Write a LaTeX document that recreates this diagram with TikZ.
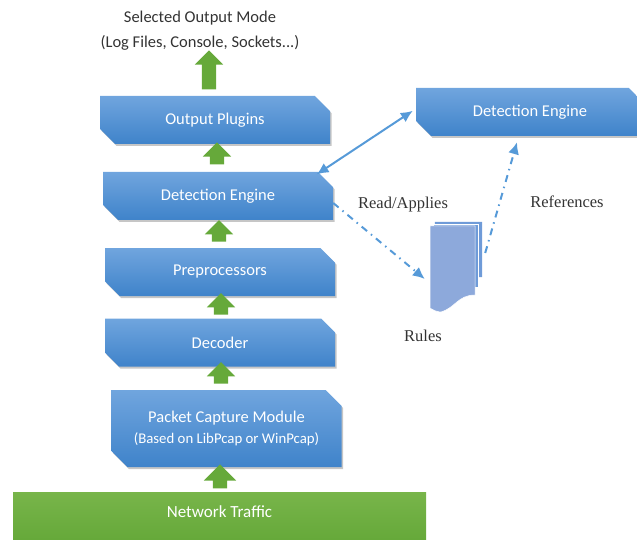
\documentclass[tikz,border=0pt]{standalone}
\usepackage{fontspec}
\setmainfont{Carlito}
\newfontfamily\serifnote{Liberation Serif}
\usetikzlibrary{shapes.misc,shapes.arrows,shadows,arrows.meta}
\definecolor{boxtop}{HTML}{70A5DE}
\definecolor{boxbot}{HTML}{3F83CA}
\definecolor{greentop}{HTML}{78B54A}
\definecolor{greenbot}{HTML}{66A93A}
\definecolor{linkblue}{HTML}{569AD8}
\definecolor{pagefill}{HTML}{8DA9DB}
\definecolor{pageback}{HTML}{6F9BD8}
\definecolor{notegray}{HTML}{333333}
\tikzset{
  module/.style={chamfered rectangle,chamfered rectangle corners={north east,south west},
    chamfered rectangle xsep=8pt,chamfered rectangle ysep=8pt,inner sep=0pt,
    top color=boxtop,bottom color=boxbot,draw=none,text=white,align=center,
    minimum width=230pt,minimum height=48pt,font=\fontsize{16.5}{20}\selectfont,
    drop shadow={shadow xshift=1.5pt,shadow yshift=-2pt,opacity=.45}},
  traffic/.style={rectangle,top color=greentop,bottom color=greenbot,text=white,
    minimum width=413pt,minimum height=47pt,inner sep=0pt,font=\fontsize{17}{20}\selectfont,
    drop shadow={shadow xshift=0pt,shadow yshift=-1pt,opacity=.35}},
  uparrow/.style={single arrow,shape border rotate=90,single arrow head extend=7pt,
    single arrow tip angle=90,inner sep=7pt,fill=greenbot,minimum width=28pt},
  linkline/.style={draw=linkblue,line width=2pt,>={Latex[length=12pt,width=11pt]}},
  dashlink/.style={linkline,dash pattern=on 7pt off 5pt on 1.5pt off 5pt},
  note/.style={font=\serifnote\fontsize{16.5}{20}\selectfont,text=notegray},
  pagesheet/.style={draw=white,line width=.5pt}
}
\begin{document}
\begin{tikzpicture}[x=1pt,y=-1pt]
  \useasboundingbox (0,0) rectangle (637,540);
  \node[font=\fontsize{16.5}{20}\selectfont,text=notegray,align=center] (mode) at (200,30.5) {Selected Output Mode\\[5pt](Log Files, Console, Sockets...)};
  \node[module] (plugins) at (215,120) {Output Plugins};
  \node[module] (detect) at (218,196) {Detection Engine};
  \node[module] (prep) at (220,272) {Preprocessors};
  \node[module] (decoder) at (220,342.5) {Decoder};
  \node[module,minimum height=77pt] (capture) at (226.5,428.5) {Packet Capture Module\\[1pt]{\fontsize{14.8}{18}\selectfont (Based on LibPcap or WinPcap)}};
  \node[traffic] (traffic) at (219.5,515.5) {\raisebox{7pt}{Network Traffic}};
  \node[module,minimum width=228pt] (engine) at (530,112) {Detection Engine};
  % green arrows between the layers
  \foreach \i/\x/\y/\h in {1/209/73.5/39,2/217/157/22,3/219/234.5/21,4/221/307.5/19,5/221/376.5/19}
    \node[uparrow,minimum height=\h pt] (arrow\i) at (\x,\y) {};
  \node[uparrow,minimum height=24pt,minimum width=32pt,single arrow head extend=9pt] (arrow6) at (220,480) {};
  % the rules document
  \node[minimum width=52pt,minimum height=86pt,inner sep=0pt] (rules) at (456,265) {};
  \fill[pageback] (rules.north west) ++(5,0) -- (482,222) -- (482,277) -- (435,277) -- cycle;
  \draw[pagesheet,fill=pageback] (433,224) -- (478,224) -- (478,287) -- (433,287) -- cycle;
  \draw[pagesheet,fill=pagefill] (430,226) -- (475,226) -- (475,295)
    .. controls (458,295) and (455,308) .. (441,312) .. controls (437,312) and (433,310) .. (430,308) -- cycle;
  \node[note] (readapplies) at (403,205) {Read/Applies};
  \node[note] (references) at (567,202) {References};
  \node[note] (ruleslabel) at (423,336) {Rules};
  \draw[linkline,<->] ([shift={(-9,-5)}]detect.north east) -- ([shift={(-3,23)}]engine.north west);
  \draw[dashlink,->] ([yshift=-7pt]detect.east) -- ([shift={(-5,14)}]rules.west);
  \draw[dashlink,->] ([shift={(3,-12)}]rules.east) -- ([shift={(-13,6)}]engine.south);
\end{tikzpicture}
\end{document}
